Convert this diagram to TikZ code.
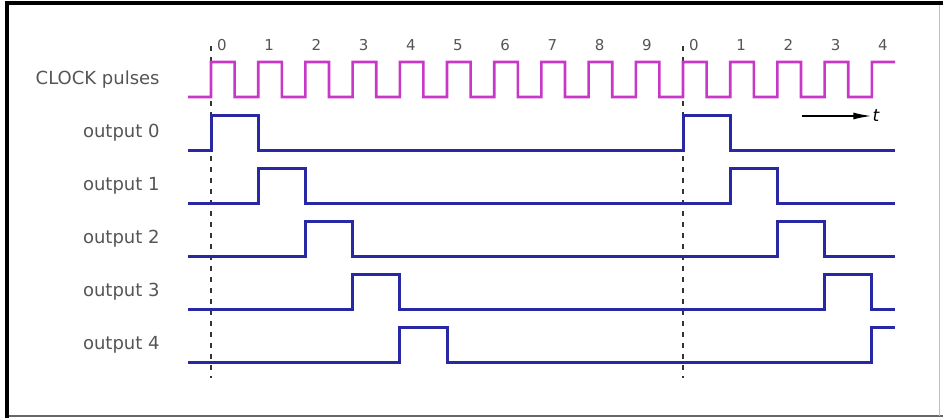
\documentclass[tikz,border=0pt]{standalone}
\usepackage{fontspec}
\setmainfont{DejaVu Sans}
\usetikzlibrary{arrows.meta}
\definecolor{clockpink}{RGB}{200,55,200}
\definecolor{pulseblue}{RGB}{40,40,165}
\definecolor{labelgray}{RGB}{85,85,85}

\begin{document}
\begin{tikzpicture}[
x=0.5pt, y=-0.5pt,
clock/.style={draw=clockpink, line width=1.3pt},
wave/.style={draw=pulseblue, line width=1.5pt},
rowlabel/.style={anchor=east, text=labelgray, inner sep=0pt, font=\fontsize{9}{10}\selectfont},
tick/.style={text=labelgray, inner sep=0pt, font=\fontsize{7.5}{8}\selectfont},
guide/.style={draw=black!80, line width=0.8pt, dash pattern=on 2.5pt off 3pt},
arrow/.style={-{Latex[length=9pt, width=3.5pt]}, black, line width=0.7pt}
]
\useasboundingbox (0,0) rectangle (943,418);
\fill[white] (0,0) rectangle (943,418);
% frame
\fill[black] (5,1) rectangle (943,5);
\fill[black] (5,1) rectangle (9,418);
\draw[black!60, line width=0.6pt] (9,416) -- (943,416);
\draw[black!25, line width=0.4pt] (939,5) -- (939,416);

% dashed markers at count 0
\coordinate (g0top) at (211,46);
\coordinate (g0bot) at (211,378);
\coordinate (g1top) at (683,46);
\coordinate (g1bot) at (683,378);
\draw[guide] (g0top) -- (g0bot);
\draw[guide] (g1top) -- (g1bot);

% clock
\node[rowlabel] (clk) at (160,80) {CLOCK pulses};
\foreach \n [count=\i from 0] in {0,1,2,3,4,5,6,7,8,9,0,1,2,3,4}
  \node[tick] (num\i) at ({222+\i*47.2},45) {\n};
\draw[clock] (188,97) -- (211,97)
  \foreach \i in {0,...,13}{
    -- ({211+\i*47.2},62) -- ({234.6+\i*47.2},62)
    -- ({234.6+\i*47.2},97) -- ({258.2+\i*47.2},97)}
  -- (871.8,62) -- (895,62);

% outputs
\foreach \k in {0,...,3}{
  \pgfmathsetmacro\lo{150+53*\k}
  \pgfmathsetmacro\hi{\lo-35}
  \pgfmathsetmacro\a{211+\k*47.2}
  \pgfmathsetmacro\b{\a+47.2}
  \pgfmathsetmacro\c{\a+472}
  \pgfmathsetmacro\d{\c+47.2}
  \draw[wave] (188,\lo) -- (\a,\lo) -- (\a,\hi) -- (\b,\hi) -- (\b,\lo)
    -- (\c,\lo) -- (\c,\hi) -- (\d,\hi) -- (\d,\lo) -- (895,\lo);
  \node[rowlabel] (out\k) at (160,\lo-17.5) {output \k};
}
\draw[wave] (188,362) -- (399.8,362) -- (399.8,327) -- (447,327) -- (447,362)
  -- (871.8,362) -- (871.8,327) -- (895,327);
\node[rowlabel] (out4) at (160,344.5) {output 4};

% time arrow
\node[inner sep=0.5pt, font=\itshape\fontsize{8.5}{9}\selectfont] (t) at (876,116) {t};
\coordinate (tfrom) at (802,116);
\draw[arrow] (tfrom) -- (t.west);
\end{tikzpicture}
\end{document}
